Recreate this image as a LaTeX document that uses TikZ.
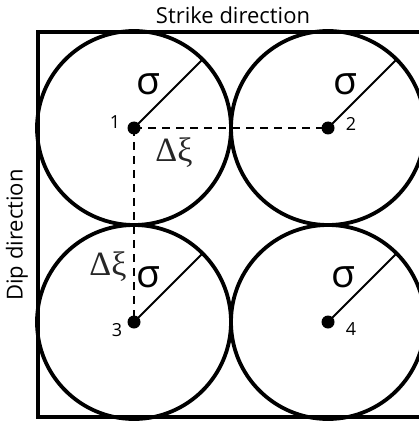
\documentclass[tikz,border=0pt]{standalone}
\usepackage{fontspec}
\setmainfont{Open Sans}
\newfontfamily\serifgr{Liberation Serif}
\begin{document}
\begin{tikzpicture}[x=1pt,y=-1pt,
  ball/.style={draw=black,line width=3.8pt},
  frame/.style={draw=black,line width=4pt},
  radius line/.style={draw=black,line width=1.8pt},
  spacing/.style={draw=black,line width=1.6pt,dash pattern=on 8pt off 6pt},
  dot/.style={circle,fill=black,inner sep=0pt,minimum size=13pt},
  numlbl/.style={font=\fontsize{18}{18}\selectfont,inner sep=0pt},
  sig/.style={font=\fontsize{39}{39}\selectfont,inner sep=0pt},
  dx/.style={font=\serifgr\fontsize{34}{34}\selectfont,inner sep=0pt,text=black!85},
  title/.style={font=\fontsize{22}{22}\selectfont,inner sep=0pt}]
\useasboundingbox (0,0) rectangle (419,422);
\fill[white] (0,0) rectangle (419,422);
% frame
\draw[frame] (425,32) -- (38,32) -- (38,417) -- (425,417);
% centres
\coordinate (c1) at (134,128);
\coordinate (c2) at (328,128);
\coordinate (c3) at (134,322);
\coordinate (c4) at (328,322);
% circles
\foreach \c in {c1,c2,c3,c4}{
  \draw[ball] (\c) circle[radius=97pt];
  \draw[radius line] (\c) -- ++(68.6,-68.6);
}
% spacing lines
\draw[spacing] (c1) -- (c2);
\draw[spacing] (c1) -- (c3);
% dots
\node[dot] (d1) at (c1) {};
\node[dot] (d2) at (c2) {};
\node[dot] (d3) at (c3) {};
\node[dot] (d4) at (c4) {};
% numbers
\node[numlbl] (n1) at (115,122) {1};
\node[numlbl] (n2) at (351,124) {2};
\node[numlbl] (n3) at (117,330) {3};
\node[numlbl] (n4) at (351,329) {4};
% sigmas
\node[sig] (s1) at (148,84) {σ};
\node[sig] (s2) at (345,84) {σ};
\node[sig] (s3) at (148,277) {σ};
\node[sig] (s4) at (343,277) {σ};
% delta xi
\node[dx,anchor=base] (dxh) at (174,161) {Δξ};
\node[dx,anchor=base] (dxv) at (108,275) {Δξ};
% titles
\node[title] (strike) at (233,15) {Strike direction};
\node[title,rotate=90] (dip) at (17,235) {Dip direction};
\end{tikzpicture}
\end{document}
